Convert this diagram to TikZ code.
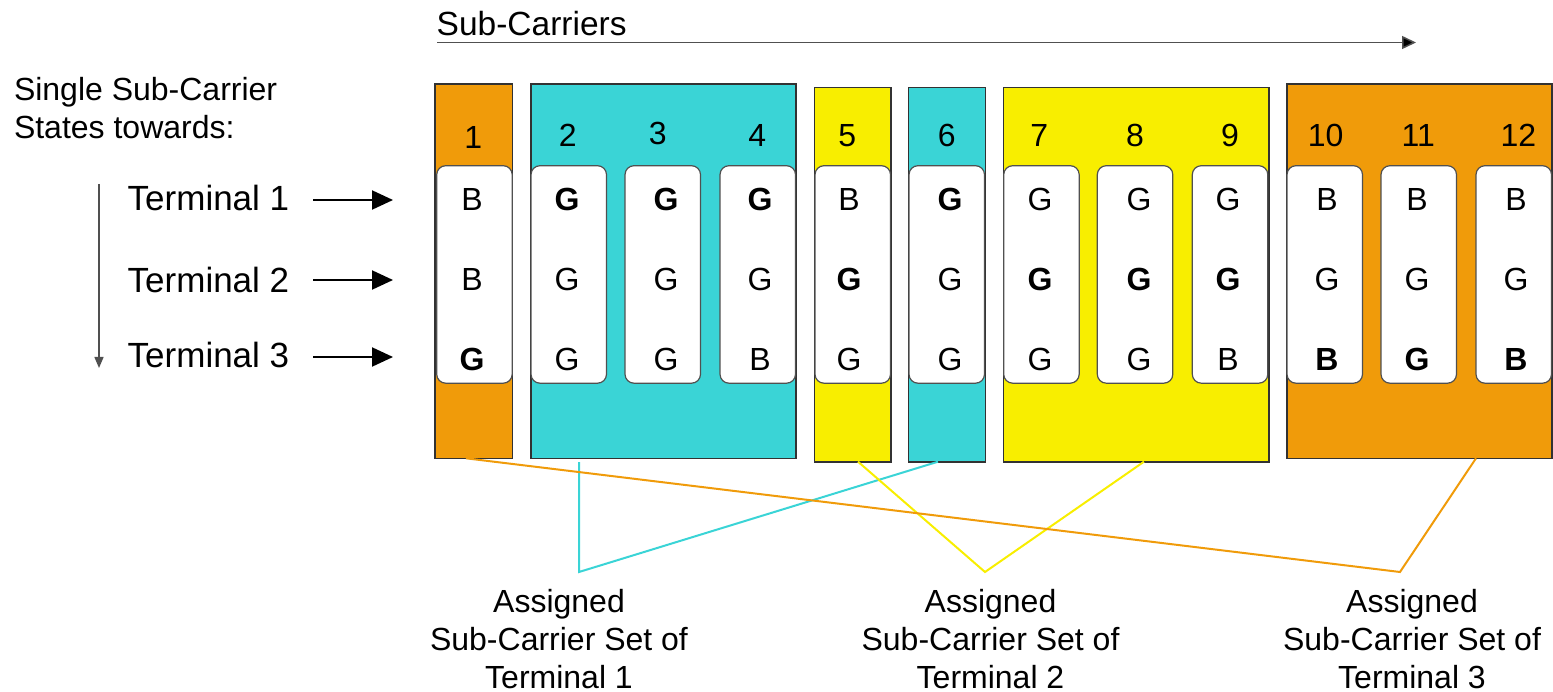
\documentclass[tikz,border=0pt]{standalone}
\usepackage{fontspec}
\setmainfont{Liberation Sans}
\usetikzlibrary{arrows.meta}
\definecolor{corange}{RGB}{240,155,10}
\definecolor{ccyan}{RGB}{58,212,214}
\definecolor{cyellow}{RGB}{248,238,0}
\definecolor{cborder}{RGB}{50,50,50}
\definecolor{ccell}{RGB}{80,80,80}
\begin{document}
\begin{tikzpicture}[x=1pt,y=-1pt,
  grp/.style={draw=cborder, line width=1.6pt, rectangle, inner sep=0pt, outer sep=0pt, anchor=north west},
  cell/.style={draw=ccell, fill=white, line width=1.2pt, rounded corners=9pt, inner sep=0pt, outer sep=0pt,
    minimum width=75.5pt, minimum height=217.5pt, anchor=north west},
  txt/.style={inner sep=0pt, outer sep=0pt, font=\fontsize{32}{38}\selectfont},
  lettr/.style={txt, anchor=base},
  termtxt/.style={inner sep=0pt, outer sep=0pt, font=\fontsize{35}{40}\selectfont, anchor=base west},
  tarrow/.style={line width=2pt, -{Triangle[length=21pt,width=19pt]}},
  link/.style={line width=2pt},
]
\useasboundingbox (0,0) rectangle (1553,692);

% group boxes
\node[grp, fill=corange, minimum width=77.3pt, minimum height=374pt] (g1) at (435,84.3) {};
\node[grp, fill=ccyan, minimum width=265pt, minimum height=374pt] (g2) at (531,84.3) {};
\node[grp, fill=cyellow, minimum width=76.4pt, minimum height=374pt] (g3) at (814.3,87.7) {};
\node[grp, fill=ccyan, minimum width=77pt, minimum height=374pt] (g4) at (908.3,87.7) {};
\node[grp, fill=cyellow, minimum width=265.7pt, minimum height=374pt] (g5) at (1003.3,87.7) {};
\node[grp, fill=corange, minimum width=265pt, minimum height=374pt] (g6) at (1286.7,84.3) {};

% sub-carrier numbers
\foreach \n/\x/\b in {1/473.3/149,2/567.7/147,3/657.7/145,4/757.3/147,5/847.3/147,6/946.7/147,
                      7/1039.3/147,8/1135/147,9/1230/147,10/1325.7/147,11/1418.3/147,12/1518.3/147}
  \node[lettr] (n\n) at (\x,\b) {\n};

% cells and states
\foreach \i/\l/\x/\a/\b/\c in {
  1/436.7/472/B/B/\textbf{G},
  2/531/567/\textbf{G}/G/G,
  3/625/666/\textbf{G}/G/G,
  4/720/760/\textbf{G}/G/B,
  5/815/849/B/\textbf{G}/G,
  6/909/950/\textbf{G}/G/G,
  7/1003.7/1040/G/\textbf{G}/G,
  8/1097.3/1139/G/\textbf{G}/G,
  9/1192.3/1228/G/\textbf{G}/B,
  10/1287/1327/B/G/\textbf{B},
  11/1381/1417/B/G/\textbf{G},
  12/1476/1516/B/G/\textbf{B}}
{
  \node[cell] (c\i) at (\l,165.7) {};
  \node[lettr] (c\i a) at (\x,211) {\a};
  \node[lettr] (c\i b) at (\x,291) {\b};
  \node[lettr] (c\i c) at (\x,371) {\c};
}

% left labels
\node[txt, anchor=north west, align=left] (hdr) at (14,77) {Single Sub-Carrier\\States towards:};
\node[termtxt] (t1) at (127.7,211) {Terminal 1};
\node[termtxt] (t2) at (127.7,292.5) {Terminal 2};
\node[termtxt] (t3) at (127.7,367.5) {Terminal 3};

\coordinate (a1s) at (313,200); \coordinate (a1e) at (393,200);
\coordinate (a2s) at (313,280); \coordinate (a2e) at (393,280);
\coordinate (a3s) at (313,357); \coordinate (a3e) at (393,357);
\draw[tarrow] (a1s) -- (a1e);
\draw[tarrow] (a2s) -- (a2e);
\draw[tarrow] (a3s) -- (a3e);

\coordinate (vs) at (99,184); \coordinate (ve) at (99,368);
\draw[draw=ccell, line width=1.5pt, -{Triangle[length=11pt,width=9pt]}] (vs) -- (ve);

% sub-carriers axis
\node[txt, anchor=base west, font=\fontsize{33.5}{38}\selectfont] (sc) at (436.7,36) {Sub-Carriers};
\coordinate (ss) at (437,42.5); \coordinate (se) at (1416,42.5);
\draw[draw=ccell, line width=1.5pt, -{Triangle[length=14pt,width=13pt,fill=black]}] (ss) -- (se);

% bottom labels
\node[txt, anchor=north, align=center] (L1) at (559,589) {Assigned\\Sub-Carrier Set of\\Terminal 1};
\node[txt, anchor=north, align=center] (L2) at (990.5,589) {Assigned\\Sub-Carrier Set of\\Terminal 2};
\node[txt, anchor=north, align=center] (L3) at (1412,589) {Assigned\\Sub-Carrier Set of\\Terminal 3};

% connectors
\coordinate (vc) at (579,572);
\coordinate (vy) at (985,572);
\coordinate (vo) at (1400,572);
\draw[link, ccyan] ([xshift=-84.5pt,yshift=-3.7pt]g2.south) -- (vc) -- ([xshift=-8.8pt]g4.south);
\draw[link, cyellow] ([xshift=5.5pt]g3.south) -- (vy) -- ([xshift=7.8pt]g5.south);
\draw[link, corange] ([xshift=-7.7pt]g1.south) -- (vo) -- ([xshift=56.8pt]g6.south);
\end{tikzpicture}
\end{document}
